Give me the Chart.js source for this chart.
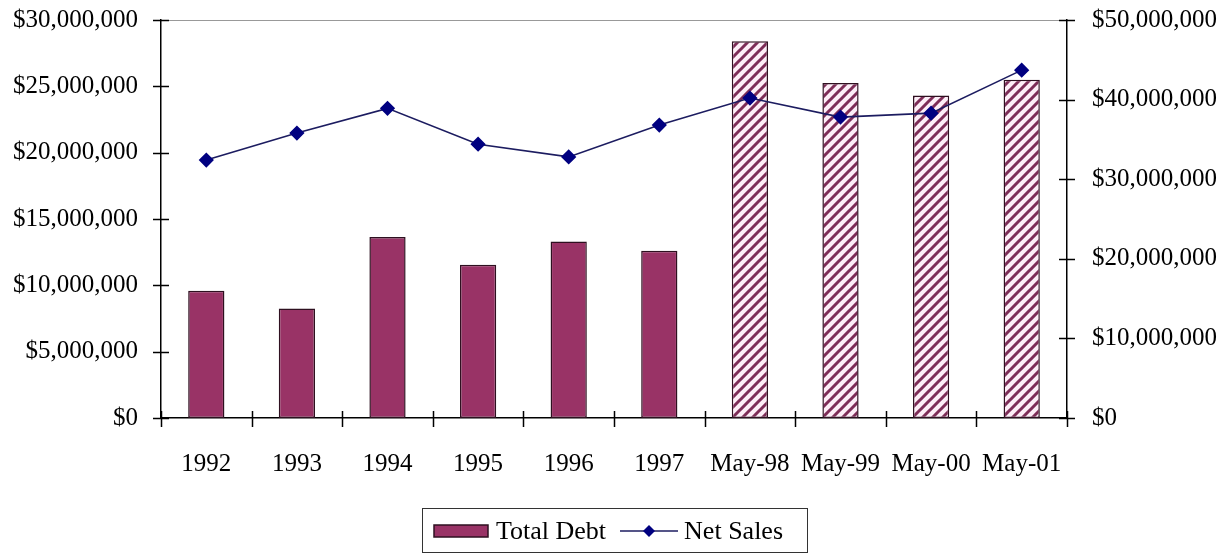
<!DOCTYPE html>
<html>
<head>
<meta charset="utf-8">
<script src="https://cdn.jsdelivr.net/npm/chart.js@4.4.1/dist/chart.umd.min.js"></script>
<style>
  html, body { margin: 0; padding: 0; background: #fff; }
  #wrap { position: relative; width: 1227px; height: 557px; }
  #legend {
    position: absolute; left: 422px; top: 508px; width: 386px; height: 45px;
    border: 1px solid #333; box-sizing: border-box;
    display: flex; align-items: center; font-family: 'Liberation Serif', serif; font-size: 26px; color: #000;
  }
  #legend canvas { display: block; }
</style>
</head>
<body>
<div id="wrap">
  <canvas id="myChart" width="1227" height="557"></canvas>
  <div id="legend"></div>
</div>
<script>
const labels = ['1992', '1993', '1994', '1995', '1996', '1997', 'May-98', 'May-99', 'May-00', 'May-01']
const totalDebt = [9600000, 8250000, 13650000, 11550000, 13300000, 12600000, 28400000, 25250000, 24300000, 25500000]
const netSales = [32400000, 35800000, 38900000, 34400000, 32800000, 36800000, 40200000, 37800000, 38300000, 43700000]
const leftTicks = [0, 5000000, 10000000, 15000000, 20000000, 25000000, 30000000]
const rightTicks = [0, 10000000, 20000000, 30000000, 40000000, 50000000]

const plum = '#993366'
const navy = '#000080'
const font = { family: "'Liberation Serif', serif", size: 25 }

function hatch() {
    const c = document.createElement('canvas')
    c.width = 10
    c.height = 10
    const g = c.getContext('2d')
    g.fillStyle = '#fdeef7'
    g.fillRect(0, 0, 10, 10)
    g.strokeStyle = '#7e2d58'
    g.lineWidth = 3
    g.beginPath()
    g.moveTo(-5, 5); g.lineTo(5, -5)
    g.moveTo(0, 10); g.lineTo(10, 0)
    g.moveTo(5, 15); g.lineTo(15, 5)
    g.stroke()
    return g.createPattern(c, 'repeat')
}
const stripes = hatch()

const money = v => '$' + Number(v).toLocaleString('en-US')

// axis ticks that cross the axis line, like the old spreadsheet chart
const crossTicks = {
    id: 'crossTicks',
    afterDraw(chart) {
        const c = chart.ctx
        const a = chart.chartArea
        const x = chart.scales.x
        c.save()
        c.strokeStyle = '#999'
        c.lineWidth = 1
        c.beginPath()
        c.moveTo(a.left, a.top + 0.5)
        c.lineTo(a.right, a.top + 0.5)
        c.stroke()
        c.strokeStyle = '#000'
        c.lineWidth = 1.5
        c.beginPath()
        for (let i = 0; i <= labels.length; i++) {
            const px = Math.round(x.getPixelForValue(i - 0.5)) + 0.5
            c.moveTo(px, a.bottom - 7)
            c.lineTo(px, a.bottom + 9)
        }
        for (const id of ['y', 'y1']) {
            const s = chart.scales[id]
            const ax = id === 'y' ? a.left : a.right
            s.ticks.forEach(t => {
                const py = Math.round(s.getPixelForValue(t.value)) + 0.5
                c.moveTo(ax - 8, py)
                c.lineTo(ax + 8, py)
            })
        }
        c.stroke()
        c.restore()
    }
}

const data = {
    labels: labels,
    datasets: [
        {
            type: 'line',
            label: 'Net Sales',
            data: netSales,
            yAxisID: 'y1',
            borderColor: '#1c1c60',
            borderWidth: 1.6,
            pointStyle: 'rectRot',
            pointRadius: 6.5,
            pointBackgroundColor: navy,
            pointBorderColor: navy,
            tension: 0,
            order: 0
        },
        {
            type: 'bar',
            label: 'Total Debt',
            data: totalDebt,
            yAxisID: 'y',
            backgroundColor: ctx => labels[ctx.dataIndex] && labels[ctx.dataIndex].startsWith('May') ? stripes : plum,
            borderColor: '#2e1020',
            borderWidth: 1.5,
            borderSkipped: false,
            barPercentage: 0.4,
            categoryPercentage: 1,
            order: 1
        }
    ]
}

const fitY = w => s => {
    s.width = w
    s.paddingTop = 0
    s.paddingBottom = 0
}

const chart = new Chart(document.getElementById('myChart'), {
    data: data,
    options: {
        responsive: false,
        animation: false,
        layout: { padding: { top: 20, bottom: 72, left: 0, right: 0 } },
        plugins: { legend: { display: false }, tooltip: { enabled: false } },
        scales: {
            x: {
                offset: true,
                grid: { display: false },
                border: { color: '#000', width: 1.5 },
                ticks: { font: font, color: '#000', padding: 23, maxRotation: 0, autoSkip: false },
                afterFit: s => { s.height = 67; s.paddingLeft = 0; s.paddingRight = 0 }
            },
            y: {
                position: 'left',
                min: 0, max: 30000000,
                grid: { display: false },
                border: { color: '#000', width: 1.5 },
                afterBuildTicks: s => { s.ticks = leftTicks.map(v => ({ value: v })) },
                ticks: { font: font, color: '#000', padding: 15, callback: money },
                afterFit: fitY(161)
            },
            y1: {
                position: 'right',
                min: 0, max: 50000000,
                grid: { display: false },
                border: { color: '#000', width: 1.5 },
                afterBuildTicks: s => { s.ticks = rightTicks.map(v => ({ value: v })) },
                ticks: { font: font, color: '#000', padding: 17, callback: money },
                afterFit: fitY(160)
            }
        }
    },
    plugins: [crossTicks]
})

// legend box under the chart, built from the datasets
function icon(kind) {
    const c = document.createElement('canvas')
    c.width = 58
    c.height = 20
    const g = c.getContext('2d')
    if (kind === 'bar') {
        g.fillStyle = plum
        g.fillRect(2, 4, 54, 12)
        g.strokeStyle = '#2e1020'
        g.lineWidth = 1.5
        g.strokeRect(2, 4, 54, 12)
    } else {
        g.strokeStyle = '#1c1c60'
        g.lineWidth = 1.6
        g.beginPath(); g.moveTo(0, 10); g.lineTo(58, 10); g.stroke()
        g.fillStyle = navy
        g.beginPath(); g.moveTo(29, 4); g.lineTo(35, 10); g.lineTo(29, 16); g.lineTo(23, 10); g.closePath(); g.fill()
    }
    return c
}
const legend = document.getElementById('legend')
;[data.datasets[1], data.datasets[0]].forEach((ds, i) => {
    const item = document.createElement('div')
    item.style.display = 'flex'
    item.style.alignItems = 'center'
    item.style.marginLeft = i === 0 ? '9px' : '14px'
    item.appendChild(icon(ds.type))
    const t = document.createElement('span')
    t.textContent = ds.label
    t.style.marginLeft = '6px'
    item.appendChild(t)
    legend.appendChild(item)
})
</script>
</body>
</html>
